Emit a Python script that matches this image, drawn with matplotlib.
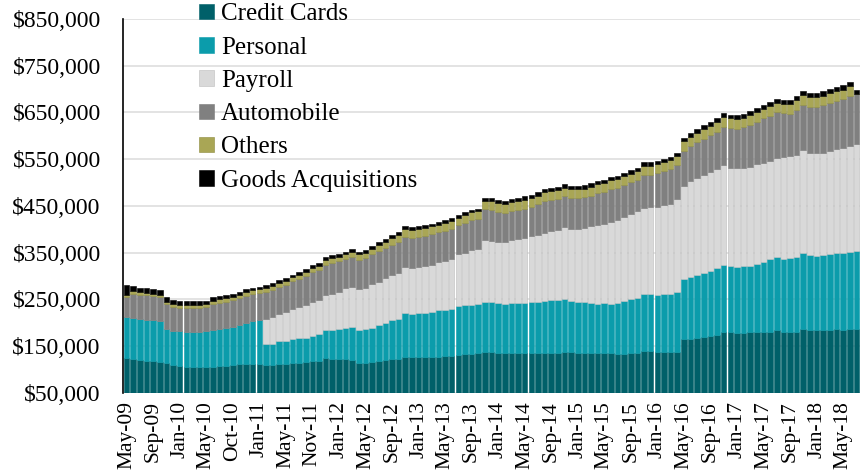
import numpy as np
import matplotlib
matplotlib.use("Agg")
import matplotlib.pyplot as plt
from matplotlib.ticker import FuncFormatter

# values in thousands, one per month (111 bars)
credit_cards = [125, 122, 120, 118, 117, 115, 113, 109, 107, 105, 105, 105, 105, 106, 107, 108, 109, 111, 111, 111,
                112, 110, 109, 112, 112, 113, 114, 116, 117, 118, 124, 123, 122, 122, 121, 114, 114, 116, 118, 120,
                122, 123, 127, 127, 127, 126, 127, 127, 129, 129, 131, 132, 133, 134, 137, 137, 135, 134, 134, 134,
                134, 134, 134, 135, 135, 136, 138, 137, 136, 135, 135, 135, 136, 134, 132, 133, 134, 134, 140, 139,
                138, 138, 138, 138, 164, 166, 167, 169, 171, 174, 181, 179, 177, 177, 180, 179, 179, 181, 184, 179,
                179, 181, 187, 185, 184, 184, 184, 186, 185, 186, 186]
personal = [86, 87, 88, 88, 88, 88, 74, 74, 75, 76, 76, 76, 78, 79, 80, 81, 82, 84, 88, 93,
            94, 44, 46, 48, 49, 52, 53, 52, 55, 57, 61, 62, 64, 66, 69, 70, 72, 73, 76, 79,
            83, 85, 93, 92, 93, 95, 95, 99, 99, 101, 104, 105, 105, 105, 108, 107, 106, 106, 108, 109,
            109, 110, 111, 112, 114, 112, 113, 110, 109, 109, 107, 105, 106, 106, 110, 114, 117, 118, 122, 122,
            122, 123, 124, 127, 129, 132, 135, 137, 140, 142, 142, 142, 143, 144, 142, 147, 150, 156, 156, 158,
            159, 159, 162, 159, 159, 160, 162, 163, 165, 166, 167]
payroll = [0] * 21 + [
    54, 57, 59, 62, 64, 66, 70, 72, 74, 75, 77, 79, 87, 87, 87, 89, 93, 92, 96,
    98, 99, 99, 99, 99, 101, 102, 103, 104, 107, 111, 113, 117, 118, 132, 131, 132, 132, 134, 137,
    139, 141, 142, 144, 148, 151, 153, 154, 156, 159, 165, 170, 170, 175, 177, 179, 182, 186, 184, 186,
    188, 190, 192, 199, 200, 206, 207, 209, 211, 212, 214, 211, 211, 211, 212, 213, 213, 210, 212, 217,
    219, 219, 220, 219, 220, 220, 222, 222, 224, 226, 229]
automobile = [43, 53, 52, 53, 51, 51, 52, 51, 50, 50, 50, 50, 50, 55, 56, 56, 57, 58, 59, 58,
              58, 58, 58, 58, 58, 60, 60, 61, 64, 63, 64, 66, 66, 61, 63, 64, 64, 65, 67, 65,
              64, 66, 64, 64, 64, 64, 65, 64, 65, 64, 62, 64, 64, 64, 66, 67, 63, 63, 63, 61,
              62, 63, 66, 69, 66, 65, 66, 65, 65, 65, 65, 68, 68, 71, 69, 68, 67, 67, 71, 70,
              73, 73, 75, 73, 75, 74, 77, 79, 79, 81, 82, 84, 84, 86, 89, 91, 95, 96, 98, 94,
              90, 97, 97, 98, 99, 101, 102, 104, 104, 107, 108]
others = ([5] * 6 + [6] * 7 + [7] * 8 + [8] * 5 + [9] * 4 + [10] * 4 + [11] * 4 + [13] * 2 + [14] * 2
          + [17] * 12 + [18] * 2 + [19] * 28 + [20] * 6 + [21] * 12 + [21] * 8 + [0])
goods = ([22, 11, 10, 10, 10, 10, 10, 9, 9, 9, 9, 9, 8, 8, 7, 7, 7, 6, 6, 6, 6]
         + [6] * 35 + [7] * 28 + [8] * 18 + [9] * 8 + [8])

tick_labels = ["May-09", "Sep-09", "Jan-10", "May-10", "Oct-10", "Jan-11", "May-11", "Nov-11",
               "Jan-12", "May-12", "Sep-12", "Jan-13", "May-13", "Sep-13", "Jan-14", "May-14",
               "Sep-14", "Jan-15", "May-15", "Sep-15", "Jan-16", "May-16", "Sep-16", "Jan-17",
               "May-17", "Sep-17", "Jan-18", "May-18"]

series = [
    ("Credit Cards", credit_cards, "#006069", "#006069"),
    ("Personal", personal, "#0B9CAB", "#0B9CAB"),
    ("Payroll", payroll, "#D9D9D9", "#BDBDBD"),
    ("Automobile", automobile, "#808080", "#7A7A7A"),
    ("Others", others, "#A9A655", "#8C8A3C"),
    ("Goods Acquisitions", goods, "#000000", "#000000"),
]

plt.rcParams["font.family"] = ["Liberation Serif", "DejaVu Serif"]

fig = plt.figure(figsize=(8.6, 4.74), dpi=100)
ax = fig.add_axes([0.143, 0.1715, 0.857, 0.7885])

x = np.arange(len(credit_cards))
bottom = np.zeros(len(x))
for name, vals, color, edge in series:
    v = np.array(vals) * 1000.0
    ax.bar(x, v, width=0.84, bottom=bottom, color=color, edgecolor=edge,
           linewidth=0.4, label=name, zorder=3)
    bottom += v

ax.set_ylim(50000, 850000)
ax.set_xlim(-0.55, len(x) - 0.45)
ax.set_yticks(np.arange(50000, 850001, 100000))
ax.yaxis.set_major_formatter(FuncFormatter(lambda v, p: f"${v:,.0f}"))
ax.set_xticks(x[::4])
ax.set_xticklabels(tick_labels, rotation=90)
ax.tick_params(axis="y", length=0, pad=16, labelsize=17)
ax.tick_params(axis="x", length=0, pad=6, labelsize=15.5)
ax.grid(axis="y", color="#E3E3E3", linewidth=1.4, zorder=0)
ax.set_axisbelow(True)
for s in ["top", "right", "bottom"]:
    ax.spines[s].set_visible(False)
ax.spines["left"].set_color("black")
ax.spines["left"].set_linewidth(1.2)

leg = fig.legend(loc="upper left", bbox_to_anchor=(0.22, 1.014), frameon=False,
                 fontsize=18, handlelength=0.58, handleheight=0.58, handletextpad=0.3,
                 labelspacing=0.45, borderaxespad=0)

fig.savefig("out.png", dpi=100)
